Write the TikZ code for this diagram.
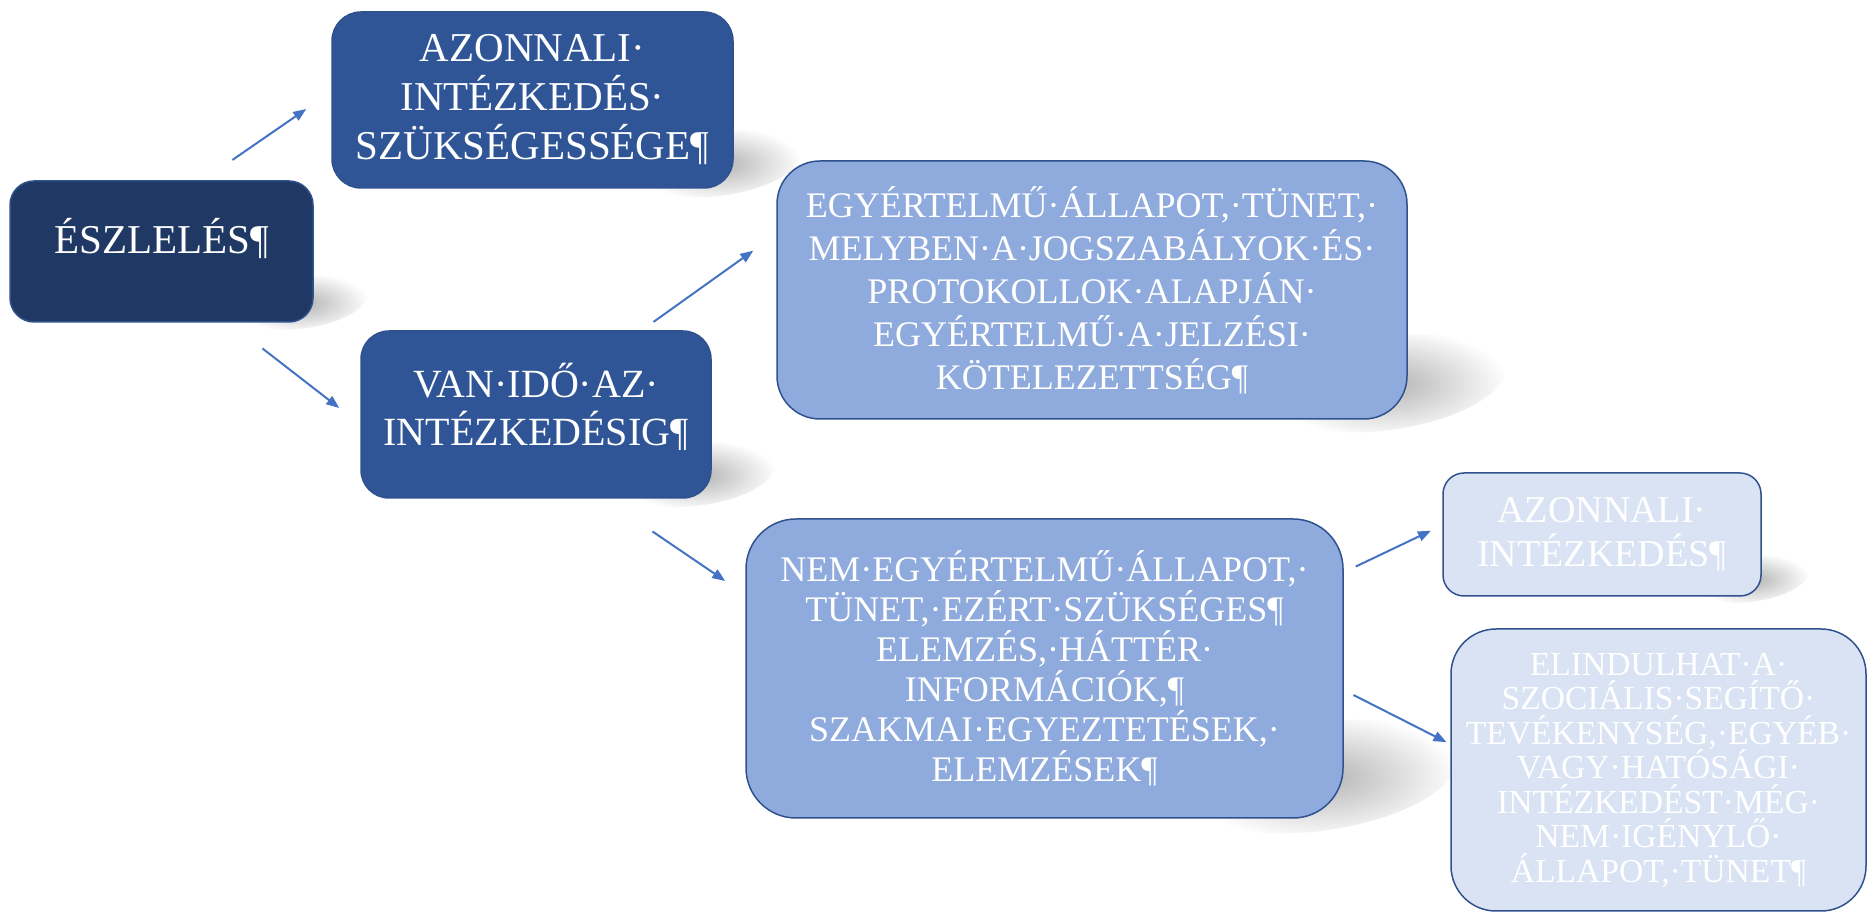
\documentclass[tikz,border=0pt]{standalone}
\usepackage{fontspec}
\setmainfont{Liberation Serif}
\usetikzlibrary{arrows.meta,backgrounds,calc}

\definecolor{navyfill}{HTML}{203864}
\definecolor{bluefill}{HTML}{2F5597}
\definecolor{skyfill}{HTML}{8FAADC}
\definecolor{palefill}{HTML}{DAE3F3}
\definecolor{edgeblue}{HTML}{2F528F}
\definecolor{linkblue}{HTML}{4472C4}

\tikzset{
  box/.style={rectangle, draw=edgeblue, line width=1.5pt, text=white,
    align=center, inner sep=2pt},
  navybox/.style={box, fill=navyfill},
  bluebox/.style={box, fill=bluefill},
  skybox/.style={box, fill=skyfill},
  palebox/.style={box, fill=palefill},
  link/.style={draw=linkblue, line width=2pt,
    -{Triangle[length=13pt,width=10pt]}},
}

% soft shadow at the lower right of a box
\newcommand\boxshade[1]{%
  \path let \p1=(#1.south east), \p2=(#1.north east), \n1={\y2-\y1} in
    [shade, inner color=black!30, outer color=white, rotate around={8:(\x1,\y1)}]
    (\x1-0.06*\n1, \y1+0.15*\n1) ellipse [x radius=0.46*\n1, y radius=0.18*\n1];
}

\begin{document}
\begin{tikzpicture}[x=1pt, y=1pt]
  \useasboundingbox (0,0) rectangle (1868,915);

  \node[navybox, minimum width=303pt, minimum height=141pt, rounded corners=24pt,
    font=\fontsize{41}{49}\selectfont] (eszl) at (161.5,663.5)
    {ÉSZLELÉS¶\rule[-32pt]{0pt}{0pt}};
  \node[bluebox, minimum width=401pt, minimum height=176pt, rounded corners=29pt,
    font=\fontsize{41}{49}\selectfont] (azsz) at (532.5,815)
    {AZONNALI·\\INTÉZKEDÉS·\\SZÜKSÉGESSÉGE¶};
  \node[bluebox, minimum width=350pt, minimum height=167pt, rounded corners=28pt,
    font=\fontsize{40}{48}\selectfont] (vanido) at (536,500.5)
    {VAN·IDŐ·AZ·\\INTÉZKEDÉSIG¶\rule[-20pt]{0pt}{0pt}};
  \node[skybox, minimum width=630pt, minimum height=258pt, rounded corners=43pt,
    font=\fontsize{36}{43}\selectfont] (egyert) at (1092,625)
    {EGYÉRTELMŰ·ÁLLAPOT,·TÜNET,·\\MELYBEN·A·JOGSZABÁLYOK·ÉS·\\PROTOKOLLOK·ALAPJÁN·\\EGYÉRTELMŰ·A·JELZÉSI·\\KÖTELEZETTSÉG¶};
  \node[skybox, minimum width=597pt, minimum height=299pt, rounded corners=50pt,
    font=\fontsize{36}{40}\selectfont] (nemegy) at (1044.5,246.5)
    {NEM·EGYÉRTELMŰ·ÁLLAPOT,·\\TÜNET,·EZÉRT·SZÜKSÉGES¶\\ELEMZÉS,·HÁTTÉR·\\INFORMÁCIÓK,¶\\SZAKMAI·EGYEZTETÉSEK,·\\ELEMZÉSEK¶};
  \node[palebox, minimum width=318pt, minimum height=123pt, rounded corners=21pt,
    font=\fontsize{38}{44}\selectfont] (azint) at (1602,380.5)
    {AZONNALI·\\INTÉZKEDÉS¶};
  \node[palebox, minimum width=415pt, minimum height=282pt, rounded corners=45pt,
    font=\fontsize{33.6}{34.5}\selectfont] (elind) at (1658.5,145)
    {ELINDULHAT·A·\\SZOCIÁLIS·SEGÍTŐ·\\TEVÉKENYSÉG,·EGYÉB·\\VAGY·HATÓSÁGI·\\INTÉZKEDÉST·MÉG·\\NEM·IGÉNYLŐ·\\ÁLLAPOT,·TÜNET¶};

  \begin{scope}[on background layer]
    \boxshade{eszl}
    \boxshade{azsz}
    \boxshade{vanido}
    \boxshade{egyert}
    \boxshade{nemegy}
    \boxshade{azint}
  \end{scope}

  \draw[link] ([shift={(-81.3,20.3)}]eszl.north east) -- ([shift={(-25,-9)}]azsz.west);
  \draw[link] ([shift={(-51.3,-25.7)}]eszl.south east) -- ([shift={(-21,6.5)}]vanido.west);
  \draw[link] ([shift={(-58.3,8.3)}]vanido.north east) -- ([shift={(-23,39.3)}]egyert.west);
  \draw[link] ([shift={(-59.3,-32.7)}]vanido.south east) -- ([shift={(-20,-62.7)}]nemegy.north west);
  \draw[link] ([shift={(12,-48.3)}]nemegy.north east) -- ([shift={(-11.3,3.8)}]azint.west);
  \draw[link] ([shift={(9.7,-26.5)}]nemegy.east) -- ([shift={(-3.7,27.8)}]elind.west);
\end{tikzpicture}
\end{document}
